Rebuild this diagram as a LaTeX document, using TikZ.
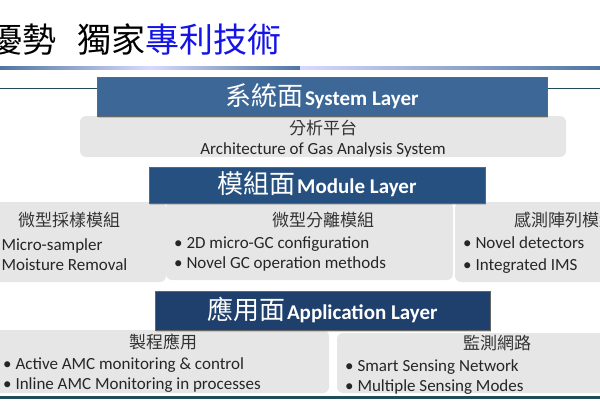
\documentclass[tikz,border=0pt]{standalone}
\usepackage{fontspec}
\setmainfont{Carlito}
\newfontfamily\cjk{Noto Sans CJK TC}
\usetikzlibrary{shadows}
\definecolor{hdrA}{HTML}{3C6796}
\definecolor{hdrB}{HTML}{26507F}
\definecolor{hdrC}{HTML}{1F406C}
\definecolor{boxg}{HTML}{E6E6E6}
\definecolor{tealline}{HTML}{1F4E5A}
\definecolor{ttlblue}{HTML}{1414E6}
\tikzset{
  hdr/.style={draw=black!60,line width=0.6pt,drop shadow={opacity=0.35,shadow xshift=1pt,shadow yshift=-1.5pt}},
  gbox/.style={fill=boxg,rounded corners=6pt,draw=none},
  body/.style={font=\fontsize{17}{19}\selectfont,text=black!85,inner sep=0pt},
  sub/.style={font=\cjk\fontsize{17}{19}\selectfont,text=black!80,inner sep=0pt},
  htext/.style={text=white,inner sep=0pt},
  hc/.style={font=\cjk\fontsize{26}{28}\selectfont},
  hl/.style={font=\bfseries\fontsize{21}{23}\selectfont}
}
\begin{document}
\begin{tikzpicture}[x=1pt,y=-1pt]
\useasboundingbox (0,0) rectangle (600,400);
\clip (0,0) rectangle (600,400);
% title
\node[anchor=base west,inner sep=0pt,font=\cjk\fontsize{34}{36}\selectfont] (title1) at (-12,52) {優勢};
\node[anchor=base west,inner sep=0pt,font=\cjk\fontsize{34}{36}\selectfont] (title2) at (77,52) {獨家\textcolor{ttlblue}{專利技術}};
\shade[left color=hdrA!90,right color=hdrA!90,middle color=blue!15] (0,66) rectangle (300,69);
\shade[left color=blue!15,right color=hdrA!90] (300,66) rectangle (600,69);
\draw[tealline,line width=1pt] (0,88) -- (600,88);
% system layer
\node[gbox,minimum width=486,minimum height=41,inner sep=0pt] (sysbox) at (323,136.5) {};
\node[hdr,fill=hdrA,minimum width=450,minimum height=39,inner sep=0pt] (syshdr) at (322,96.5) {};
\node[htext,anchor=base] (syst) at (322,105) {\hbox{\cjk\fontsize{26}{28}\selectfont 系統面}\,\hbox{\bfseries\fontsize{21}{23}\selectfont System Layer}};
\node[sub,anchor=base] (s1) at (323,134) {分析平台};
\node[body,anchor=base] (s2) at (323,154) {Architecture of Gas Analysis System};
% module layer
\node[gbox,minimum width=178,minimum height=80,inner sep=0pt] (mL) at (77,242) {};
\node[gbox,minimum width=287,minimum height=78,inner sep=0pt] (mM) at (309.5,241) {};
\node[gbox,minimum width=160,minimum height=80,inner sep=0pt] (mR) at (535,242) {};
\node[hdr,fill=hdrB,minimum width=336,minimum height=36,inner sep=0pt] (modhdr) at (317,185) {};
\node[htext,anchor=base] (modt) at (317,193.5) {\hbox{\cjk\fontsize{26}{28}\selectfont 模組面}\,\hbox{\bfseries\fontsize{21}{23}\selectfont Module Layer}};
\node[sub,anchor=base] (l0) at (69,226) {微型採樣模組};
\node[body,anchor=base west] (l1) at (-11,250) {• Micro-sampler};
\node[body,anchor=base west] (l2) at (-11,270) {• Moisture Removal};
\node[sub,anchor=base] (c0) at (323,226) {微型分離模組};
\node[body,anchor=base west] (c1) at (174,248) {• 2D micro-GC configuration};
\node[body,anchor=base west] (c2) at (174,268) {• Novel GC operation methods};
\node[sub,anchor=base west] (r0) at (514,226) {感測陣列模組};
\node[body,anchor=base west] (r1) at (463,248) {• Novel detectors};
\node[body,anchor=base west] (r2) at (463,270) {• Integrated IMS};
% application layer
\node[gbox,minimum width=336,minimum height=63,inner sep=0pt] (aL) at (161,361.5) {};
\node[gbox,minimum width=275,minimum height=60,inner sep=0pt] (aR) at (474.5,363) {};
\node[hdr,fill=hdrC,minimum width=335,minimum height=39,inner sep=0pt] (apphdr) at (322.5,310.5) {};
\node[htext,anchor=base] (appt) at (322.5,319) {\hbox{\cjk\fontsize{26}{28}\selectfont 應用面}\,\hbox{\bfseries\fontsize{21}{23}\selectfont Application Layer}};
\node[sub,anchor=base] (a0) at (163,348) {製程應用};
\node[body,anchor=base west] (a1) at (3,369) {• Active AMC monitoring \& control};
\node[body,anchor=base west] (a2) at (3,389) {• Inline AMC Monitoring in processes};
\node[sub,anchor=base] (b0) at (497,349) {監測網路};
\node[body,anchor=base west] (b1) at (345,371) {• Smart Sensing Network};
\node[body,anchor=base west] (b2) at (345,391) {• Multiple Sensing Modes};
\draw[tealline,line width=2.5pt] (0,397.5) -- (600,397.5);
\end{tikzpicture}
\end{document}
